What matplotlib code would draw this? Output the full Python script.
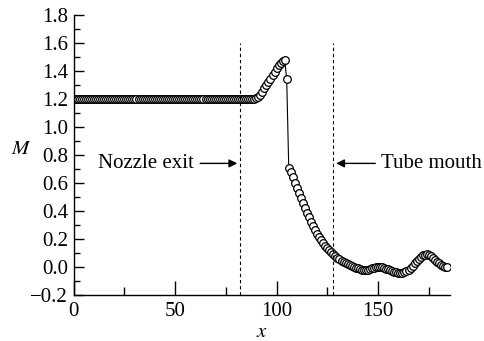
import numpy as np
import matplotlib.pyplot as plt
from matplotlib.ticker import MultipleLocator

plt.rcParams['font.family'] = ['Liberation Serif', 'DejaVu Serif']
plt.rcParams['mathtext.fontset'] = 'stix'

# Mach number along the axis, one sample per unit of x
x = np.arange(0, 185)
m_flat = [1.2] * 89  # x = 0 .. 88
m_rise = [1.2, 1.205, 1.215, 1.23, 1.25, 1.275, 1.30, 1.32, 1.345, 1.37,
          1.395, 1.42, 1.44, 1.455, 1.47, 1.48]  # x = 89 .. 104
m_shock = [1.34]  # x = 105
m_decay = [0.71, 0.675, 0.64, 0.60, 0.565, 0.527, 0.49, 0.455, 0.42, 0.387,
           0.355, 0.322, 0.29, 0.262, 0.235, 0.212, 0.19, 0.17, 0.15, 0.135,
           0.12, 0.105, 0.09, 0.077, 0.065, 0.055, 0.045, 0.037, 0.03, 0.022,
           0.015, 0.008, 0.0, -0.005, -0.01, -0.015, -0.02, -0.022, -0.022,
           -0.02, -0.015, -0.01, -0.005, -0.002, 0.0, -0.001, -0.003, -0.007,
           -0.012, -0.018, -0.024, -0.03, -0.035, -0.038, -0.04, -0.041,
           -0.04, -0.037, -0.03, -0.02, -0.005, 0.01, 0.027, 0.045, 0.06,
           0.073, 0.083, 0.088, 0.09, 0.087, 0.078, 0.065, 0.05, 0.037, 0.025,
           0.015, 0.008, 0.003, 0.0]  # x = 106 .. 184
mach = np.array(m_flat + m_rise + m_shock + m_decay)

nozzle_exit = 82
tube_mouth = 128
fs = 15

fig = plt.figure(figsize=(4.84, 3.41), dpi=100)
ax = fig.add_axes([0.152, 0.135, 0.778, 0.821])

ax.plot(x, mach, color='k', lw=0.8, marker='o', markersize=5.5,
        markerfacecolor='white', markeredgecolor='k', markeredgewidth=0.9)

ax.vlines([nozzle_exit, tube_mouth], -0.2, 1.6, colors='k', linestyles=(0, (3, 2.5)), lw=0.8)

ax.annotate('', xy=(nozzle_exit, 0.74), xytext=(61, 0.74),
            arrowprops=dict(arrowstyle='-|>', color='k', lw=1, mutation_scale=12))
ax.text(59.5, 0.74, 'Nozzle exit', ha='right', va='center', fontsize=fs)
ax.annotate('', xy=(tube_mouth, 0.74), xytext=(150, 0.74),
            arrowprops=dict(arrowstyle='-|>', color='k', lw=1, mutation_scale=12))
ax.text(151.5, 0.74, 'Tube mouth', ha='left', va='center', fontsize=fs)

ax.set_xlim(0, 185.5)
ax.set_ylim(-0.2, 1.8)
ax.xaxis.set_major_locator(MultipleLocator(50))
ax.xaxis.set_minor_locator(MultipleLocator(25))
ax.yaxis.set_major_locator(MultipleLocator(0.2))
ax.yaxis.set_minor_locator(MultipleLocator(0.1))
ax.yaxis.set_major_formatter(plt.FuncFormatter(lambda v, p: f'{v:.1f}'.replace('-', '\u2212')))

ax.spines['top'].set_visible(False)
ax.spines['right'].set_visible(False)
for s in ['left', 'bottom']:
    ax.spines[s].set_linewidth(1)
ax.tick_params(which='both', direction='in', labelsize=fs, width=1)
ax.tick_params(which='major', length=7, pad=4)
ax.tick_params(which='minor', length=4)
ax.tick_params(axis='x', which='major', length=10, pad=5)
ax.tick_params(axis='x', which='minor', length=6)

ax.set_xlabel('$x$', fontsize=fs)
ax.set_ylabel('$M$', fontsize=fs, rotation=0)
ax.yaxis.set_label_coords(-0.14, 0.485)
ax.xaxis.set_label_coords(0.5, -0.1)

fig.savefig('out.png', dpi=100)
